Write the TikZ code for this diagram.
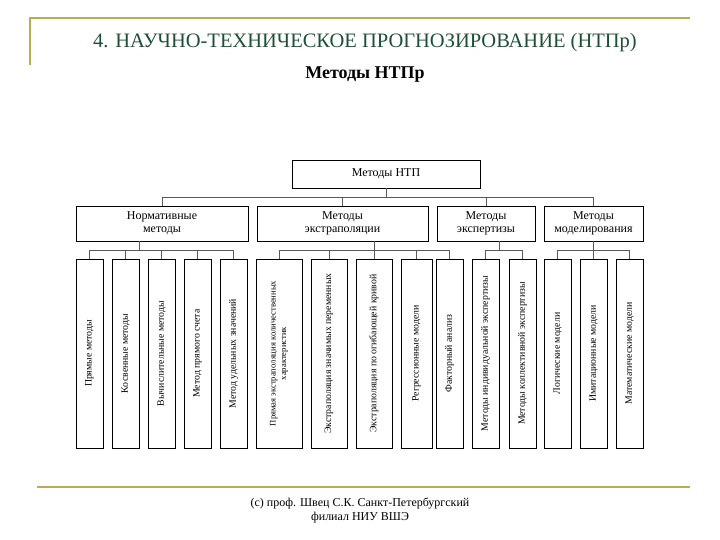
\documentclass[tikz,border=0pt]{standalone}
\usepackage{fontspec}
\setmainfont{Liberation Serif}
\definecolor{gold}{RGB}{190,170,80}
\definecolor{titlegreen}{RGB}{30,80,55}
\begin{document}
\begin{tikzpicture}[x=1pt,y=-1pt,
  box/.style={draw, line width=0.7pt, inner sep=1pt, outer sep=0pt, align=center, font=\fontsize{12}{13}\selectfont},
  sbox/.style={draw, line width=0.7pt, rotate=90, minimum width=189pt, minimum height=27pt, inner sep=1pt, outer sep=0pt, align=center, font=\fontsize{9.8}{11}\selectfont},
  conn/.style={line width=0.6pt, draw=black!65},
  goldline/.style={draw=gold, line width=2.2pt}]
\useasboundingbox (0,0) rectangle (720,540);

% decorative lines
\draw[goldline] (30,65) -- (30,18) -- (690,18);
\draw[goldline] (37,487) -- (690,487);

% titles
\node[text=titlegreen, font=\fontsize{20.5}{22}\selectfont] (title) at (365,43) {4. НАУЧНО-ТЕХНИЧЕСКОЕ ПРОГНОЗИРОВАНИЕ (НТПр)};
\node[font=\bfseries\fontsize{18}{20}\selectfont] (subtitle) at (365,75) {Методы НТПр};

% top box
\node[box, minimum width=188pt, minimum height=28pt] (top) at (386,174) {Методы НТП};

% level 2
\node[box, minimum width=172pt, minimum height=35pt] (n1) at (162,223.5) {Нормативные\\методы};
\node[box, minimum width=171pt, minimum height=35pt] (n2) at (342.5,223.5) {Методы\\экстраполяции};
\node[box, minimum width=98pt, minimum height=35pt] (n3) at (486,223.5) {Методы\\экспертизы};
\node[box, minimum width=99pt, minimum height=35pt] (n4) at (593.5,223.5) {Методы\\моделирования};

% level 3
\node[sbox] (b1) at (89.5,353.5) {Прямые методы};
\node[sbox] (b2) at (125.5,353.5) {Косвенные методы};
\node[sbox] (b3) at (161.5,353.5) {Вычислительные методы};
\node[sbox] (b4) at (197.5,353.5) {Метод прямого счета};
\node[sbox] (b5) at (233.5,353.5) {Метод удельных значений};
\node[sbox, minimum height=46pt, font=\fontsize{8.6}{10.5}\selectfont] (b6) at (279,353.5) {Прямая экстраполяция количественных\\характеристик};
\node[sbox, minimum height=36pt] (b7) at (329,353.5) {Экстраполяция значимых переменных};
\node[sbox, minimum height=36pt] (b8) at (374,353.5) {Экстраполяция по огибающей кривой};
\node[sbox, minimum height=31pt] (b9) at (416.5,353.5) {Регрессионные модели};
\node[sbox] (b10) at (449.5,353.5) {Факторный анализ};
\node[sbox] (b11) at (485.5,353.5) {Методы индивидуальной экспертизы};
\node[sbox] (b12) at (522.5,353.5) {Методы коллективной экспертизы};
\node[sbox] (b13) at (557.5,353.5) {Логические модели};
\node[sbox] (b14) at (593.5,353.5) {Имитационные модели};
\node[sbox] (b15) at (629.5,353.5) {Математические модели};

% connectors top -> level 2
\draw[conn] (top.south) -- ++(0,9) coordinate (bus0);
\foreach \n in {n1,n2,n3,n4} \draw[conn] (bus0) -| (\n.north);

% connectors level 2 -> level 3
\draw[conn] ([xshift=-23pt]n1.south) -- ++(0,9) coordinate (bus1);
\foreach \b in {b1,b2,b3,b4,b5} \draw[conn] (bus1) -| (\b.east);
\draw[conn] ([xshift=31.5pt]n2.south) -- ++(0,9) coordinate (bus2);
\foreach \b in {b6,b7,b8,b9,b10} \draw[conn] (bus2) -| (\b.east);
\draw[conn] ([xshift=13pt]n3.south) -- ++(0,9) coordinate (bus3);
\foreach \b in {b11,b12} \draw[conn] (bus3) -| (\b.east);
\draw[conn] (n4.south) -- ++(0,9) coordinate (bus4);
\foreach \b in {b13,b14,b15} \draw[conn] (bus4) -| (\b.east);

% footer
\node[align=center, font=\fontsize{12}{14}\selectfont] (footer) at (360,510.5) {(c) проф. Швец С.К. Санкт-Петербургский\\филиал НИУ ВШЭ};
\end{tikzpicture}
\end{document}
